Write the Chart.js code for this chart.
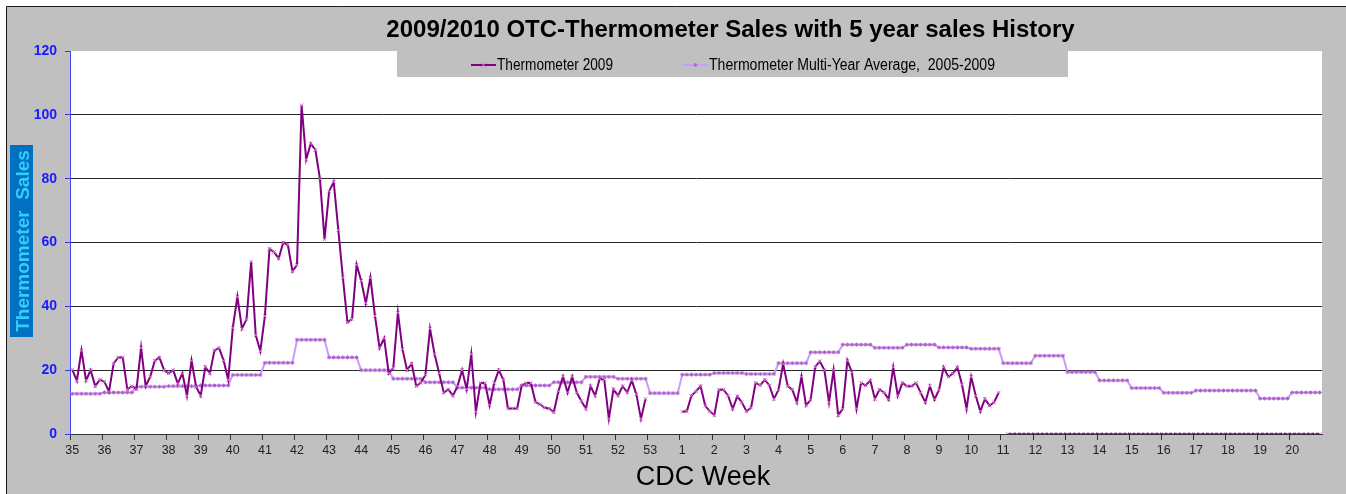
<!DOCTYPE html>
<html>
<head>
<meta charset="utf-8">
<script src="https://cdn.jsdelivr.net/npm/chart.js@4.4.1/dist/chart.umd.min.js"></script>
<style>
  html, body { margin: 0; padding: 0; background: #ffffff; }
  #wrap { width: 1346px; height: 494px; }
</style>
</head>
<body>
<div id="wrap"><canvas id="c" width="1346" height="494"></canvas></div>
<script>
// ---- DATA ----
const chartTitle = '2009/2010 OTC-Thermometer Sales with 5 year sales History';
const seriesNames = ['Thermometer 2009', 'Thermometer Multi-Year Average,  2005-2009'];
const yTitle = 'Thermometer  Sales';
const xTitle = 'CDC Week';

// CDC week tick labels (7 daily categories per week)
const weekLabels = ['35','36','37','38','39','40','41','42','43','44','45','46','47','48','49','50','51','52','53',
                    '1','2','3','4','5','6','7','8','9','10','11','12','13','14','15','16','17','18','19','20'];
const daysPerWeek = 7;
const yTicks = [0, 20, 40, 60, 80, 100, 120];

// Thermometer 2009 daily sales (one row per CDC week)
const sales2009 = [
  20.2, 16.7, 26.2, 16.8, 20, 15, 17,        // 35
  16.4, 13.3, 22, 24, 24, 14, 15,            // 36
  14, 27, 15, 18, 23, 24, 20,                // 37
  19, 20, 15.8, 19, 12, 23, 14.8,            // 38
  12, 21, 19, 26.2, 27, 23, 17,              // 39
  33.3, 43, 33, 36, 54, 31, 26,              // 40
  37, 58, 57, 55, 60, 59.3, 51,              // 41
  53, 103, 86, 91, 89, 80, 61,               // 42
  76, 79, 64, 49, 35, 36, 53,                // 43
  48, 41, 49, 37, 27, 30, 19,                // 44
  20.7, 38, 26.5, 20, 22, 15, 16,            // 45
  18.6, 33, 25, 19, 13, 14, 12,              // 46
  15, 20, 14, 25, 7, 16, 16,                 // 47
  9, 16, 20, 17, 8, 8, 8,                    // 48
  15.2, 16, 16, 10, 9.3, 8.2, 8,             // 49
  6.8, 13.4, 18, 13, 18, 13, 10.3,           // 50
  7.9, 15, 12, 17.3, 17, 4.8, 14,            // 51
  12, 15, 13, 16.8, 12.4, 4.8, 11,           // 52
  null, null, null, null, null, null, null,  // 53
  7, 7.1, 12, 13.4, 15, 8.9, 7.1,            // 1
  5.9, 13.9, 13.9, 12, 7.9, 11.8, 9.9,       // 2
  7.1, 8.2, 16, 15.3, 17, 15.2, 11,          // 3
  13.9, 22, 15, 13.9, 9.9, 18, 8.9,          // 4
  10.8, 21, 22.8, 20, 9.9, 20, 5.9,          // 5
  7.9, 23, 19.3, 7.9, 16, 15.2, 16.8,        // 6
  11, 13.9, 13.1, 10.8, 20.9, 12, 16,        // 7
  15, 15, 16, 12.9, 9.9, 15, 10.8,           // 8
  13.9, 20.9, 17.9, 18.9, 20.9, 15.5, 7.9,   // 9
  17.9, 12, 7.1, 11, 8.9, 9.9, 13,           // 10
  null, 0, 0, 0, 0, 0, 0,                    // 11
  0, 0, 0, 0, 0, 0, 0,                       // 12
  0, 0, 0, 0, 0, 0, 0,                       // 13
  0, 0, 0, 0, 0, 0, 0,                       // 14
  0, 0, 0, 0, 0, 0, 0,                       // 15
  0, 0, 0, 0, 0, 0, 0,                       // 16
  0, 0, 0, 0, 0, 0, 0,                       // 17
  0, 0, 0, 0, 0, 0, 0,                       // 18
  0, 0, 0, 0, 0, 0, 0,                       // 19
  0, 0, 0, 0, 0, 0, 0                        // 20
];

// Multi-year average 2005-2009 (daily, constant within each week)
const salesAvg = [
  12.6, 12.6, 12.6, 12.6, 12.6, 12.6, 12.6,  // 35
  13, 13, 13, 13, 13, 13, 13,                // 36
  14.8, 14.8, 14.8, 14.8, 14.8, 14.8, 14.8,  // 37
  15, 15, 15, 15, 15, 15, 15,                // 38
  15.2, 15.2, 15.2, 15.2, 15.2, 15.2, 15.2,  // 39
  18.5, 18.5, 18.5, 18.5, 18.5, 18.5, 18.5,  // 40
  22.3, 22.3, 22.3, 22.3, 22.3, 22.3, 22.3,  // 41
  29.5, 29.5, 29.5, 29.5, 29.5, 29.5, 29.5,  // 42
  24, 24, 24, 24, 24, 24, 24,                // 43
  20, 20, 20, 20, 20, 20, 20,                // 44
  17.3, 17.3, 17.3, 17.3, 17.3, 17.3, 17.3,  // 45
  16.2, 16.2, 16.2, 16.2, 16.2, 16.2, 16.2,  // 46
  14.5, 14.5, 14.5, 14.5, 14.5, 14.5, 14.5,  // 47
  14, 14, 14, 14, 14, 14, 14,                // 48
  15.2, 15.2, 15.2, 15.2, 15.2, 15.2, 15.2,  // 49
  16.2, 16.2, 16.2, 16.2, 16.2, 16.2, 16.2,  // 50
  17.9, 17.9, 17.9, 17.9, 17.9, 17.9, 17.9,  // 51
  17.3, 17.3, 17.3, 17.3, 17.3, 17.3, 17.3,  // 52
  12.8, 12.8, 12.8, 12.8, 12.8, 12.8, 12.8,  // 53
  18.6, 18.6, 18.6, 18.6, 18.6, 18.6, 18.6,  // 1
  19.1, 19.1, 19.1, 19.1, 19.1, 19.1, 19.1,  // 2
  18.8, 18.8, 18.8, 18.8, 18.8, 18.8, 18.8,  // 3
  22.2, 22.2, 22.2, 22.2, 22.2, 22.2, 22.2,  // 4
  25.6, 25.6, 25.6, 25.6, 25.6, 25.6, 25.6,  // 5
  28, 28, 28, 28, 28, 28, 28,                // 6
  27, 27, 27, 27, 27, 27, 27,                // 7
  28, 28, 28, 28, 28, 28, 28,                // 8
  27.1, 27.1, 27.1, 27.1, 27.1, 27.1, 27.1,  // 9
  26.7, 26.7, 26.7, 26.7, 26.7, 26.7, 26.7,  // 10
  22.2, 22.2, 22.2, 22.2, 22.2, 22.2, 22.2,  // 11
  24.5, 24.5, 24.5, 24.5, 24.5, 24.5, 24.5,  // 12
  19.4, 19.4, 19.4, 19.4, 19.4, 19.4, 19.4,  // 13
  16.8, 16.8, 16.8, 16.8, 16.8, 16.8, 16.8,  // 14
  14.4, 14.4, 14.4, 14.4, 14.4, 14.4, 14.4,  // 15
  12.9, 12.9, 12.9, 12.9, 12.9, 12.9, 12.9,  // 16
  13.6, 13.6, 13.6, 13.6, 13.6, 13.6, 13.6,  // 17
  13.6, 13.6, 13.6, 13.6, 13.6, 13.6, 13.6,  // 18
  11.1, 11.1, 11.1, 11.1, 11.1, 11.1, 11.1,  // 19
  13, 13, 13, 13, 13, 13, 13                 // 20
];

// daily categories, each carrying its CDC week
const categories = sales2009.map((_, i) => weekLabels[Math.floor(i / daysPerWeek)]);

// ---- STYLE ----
const FONT = '"Liberation Sans", Arial, Helvetica, sans-serif';
const C2009 = '#800080';
const C2009pt = '#D070D0';
const CAVG = '#CC99FF';
const CAVGpt = '#B060C8';
const W = 1346, H = 494;

const backgroundPlugin = {
  id: 'backgroundPlugin',
  beforeDraw(chart) {
    const { ctx, chartArea: a } = chart;
    ctx.save();
    ctx.fillStyle = '#ffffff';
    ctx.fillRect(0, 0, W, H);
    ctx.fillStyle = '#C0C0C0';
    ctx.fillRect(6, 6, W - 6, H - 6);
    ctx.strokeStyle = '#1a1a1a';
    ctx.lineWidth = 1;
    ctx.beginPath();
    ctx.moveTo(6.5, H);
    ctx.lineTo(6.5, 6.5);
    ctx.lineTo(W, 6.5);
    ctx.stroke();
    ctx.fillStyle = '#ffffff';
    ctx.fillRect(a.left, a.top, a.right - a.left, a.bottom - a.top);
    ctx.restore();
  }
};

function drawMarker(ctx, style, x, y, r, color) {
  ctx.save();
  ctx.strokeStyle = color;
  ctx.lineWidth = 1;
  ctx.beginPath();
  if (style === 'crossRot') {
    ctx.moveTo(x - r, y - r); ctx.lineTo(x + r, y + r);
    ctx.moveTo(x - r, y + r); ctx.lineTo(x + r, y - r);
  } else {
    ctx.moveTo(x - r, y); ctx.lineTo(x + r, y);
    ctx.moveTo(x, y - r); ctx.lineTo(x, y + r);
    ctx.moveTo(x - r * 0.7, y - r * 0.7); ctx.lineTo(x + r * 0.7, y + r * 0.7);
    ctx.moveTo(x - r * 0.7, y + r * 0.7); ctx.lineTo(x + r * 0.7, y - r * 0.7);
  }
  ctx.stroke();
  ctx.restore();
}

function fitText(ctx, text, x, y, width) {
  const m = ctx.measureText(text).width;
  ctx.save();
  ctx.translate(x, y);
  ctx.scale(width / m, 1);
  ctx.fillText(text, 0, 0);
  ctx.restore();
}

const decorPlugin = {
  id: 'decorPlugin',
  afterDraw(chart) {
    const { ctx } = chart;
    ctx.save();
    // main title
    ctx.fillStyle = '#000000';
    ctx.font = 'bold 24px ' + FONT;
    ctx.textAlign = 'center';
    ctx.textBaseline = 'middle';
    ctx.fillText(chartTitle, 730.5, 30);

    // legend box
    ctx.fillStyle = '#C0C0C0';
    ctx.fillRect(397, 51, 671, 26);
    // item 1
    ctx.strokeStyle = C2009; ctx.lineWidth = 2;
    ctx.beginPath(); ctx.moveTo(471, 65); ctx.lineTo(496, 65); ctx.stroke();
    drawMarker(ctx, 'crossRot', 483.5, 65, 2.5, C2009pt);
    // item 2
    ctx.strokeStyle = CAVG; ctx.lineWidth = 2;
    ctx.beginPath(); ctx.moveTo(683, 65); ctx.lineTo(708, 65); ctx.stroke();
    drawMarker(ctx, 'star', 695.5, 65, 2, CAVGpt);
    ctx.fillStyle = '#000000';
    ctx.font = '16px "Liberation Sans Narrow", ' + FONT;
    ctx.textAlign = 'left';
    ctx.textBaseline = 'middle';
    fitText(ctx, seriesNames[0], 497, 65.5, 116);
    fitText(ctx, seriesNames[1], 709, 65.5, 286);

    // y title box
    ctx.fillStyle = '#0070C0';
    ctx.fillRect(10, 145, 23, 192);
    ctx.save();
    ctx.translate(24, 241);
    ctx.rotate(-Math.PI / 2);
    ctx.fillStyle = '#33CCFF';
    ctx.font = 'bold 19px ' + FONT;
    ctx.textAlign = 'center';
    ctx.textBaseline = 'middle';
    ctx.fillText(yTitle, 0, 0);
    ctx.restore();

    // x title
    ctx.fillStyle = '#000000';
    ctx.font = '27px ' + FONT;
    ctx.textAlign = 'center';
    ctx.textBaseline = 'middle';
    ctx.fillText(xTitle, 703, 478);
    ctx.restore();
  }
};

new Chart(document.getElementById('c'), {
  type: 'line',
  data: {
    labels: categories,
    datasets: [
      {
        label: seriesNames[0],
        data: sales2009,
        borderColor: C2009,
        borderWidth: 2,
        pointStyle: 'crossRot',
        pointRadius: 2.5,
        pointBorderColor: C2009pt,
        pointBorderWidth: 1,
        pointBackgroundColor: 'transparent',
        tension: 0,
        spanGaps: false,
        order: 1
      },
      {
        label: seriesNames[1],
        data: salesAvg,
        borderColor: CAVG,
        borderWidth: 2,
        pointStyle: 'star',
        pointRadius: 2,
        pointBorderColor: CAVGpt,
        pointBorderWidth: 1,
        pointBackgroundColor: CAVGpt,
        tension: 0,
        order: 2
      }
    ]
  },
  options: {
    responsive: false,
    animation: false,
    devicePixelRatio: 1,
    layout: { padding: { top: 51, left: 0, right: 24, bottom: 0 } },
    plugins: {
      legend: { display: false },
      title: { display: false },
      tooltip: { enabled: false }
    },
    scales: {
      x: {
        type: 'category',
        offset: true,
        afterFit(scale) { scale.height = 60; },
        grid: {
          offset: true,
          drawOnChartArea: false,
          drawTicks: true,
          tickLength: 6,
          tickWidth: 1,
          tickColor: (ctx) => (ctx.index % daysPerWeek === 0 ? '#333333' : 'rgba(0,0,0,0)')
        },
        border: { color: '#333333', width: 1 },
        ticks: {
          autoSkip: false,
          maxRotation: 0,
          minRotation: 0,
          padding: 3,
          color: '#222222',
          font: { family: FONT, size: 12.5 },
          callback: (v, i) => (i % daysPerWeek === 0 ? weekLabels[i / daysPerWeek] : '')
        }
      },
      y: {
        min: 0,
        max: 120,
        afterFit(scale) { scale.width = 70; },
        afterBuildTicks(scale) { scale.ticks = yTicks.map(v => ({ value: v })); },
        grid: {
          color: (ctx) => (ctx.tick && (ctx.tick.value === 120 || ctx.tick.value === 0) ? 'rgba(0,0,0,0)' : '#2a2a2a'),
          lineWidth: 1,
          tickLength: 5,
          tickColor: '#3333FF'
        },
        border: { color: '#4444FF', width: 1 },
        ticks: {
          padding: 8,
          color: '#1A1AFF',
          font: { family: FONT, size: 14, weight: 'bold' }
        }
      }
    }
  },
  plugins: [backgroundPlugin, decorPlugin]
});
</script>
</body>
</html>
